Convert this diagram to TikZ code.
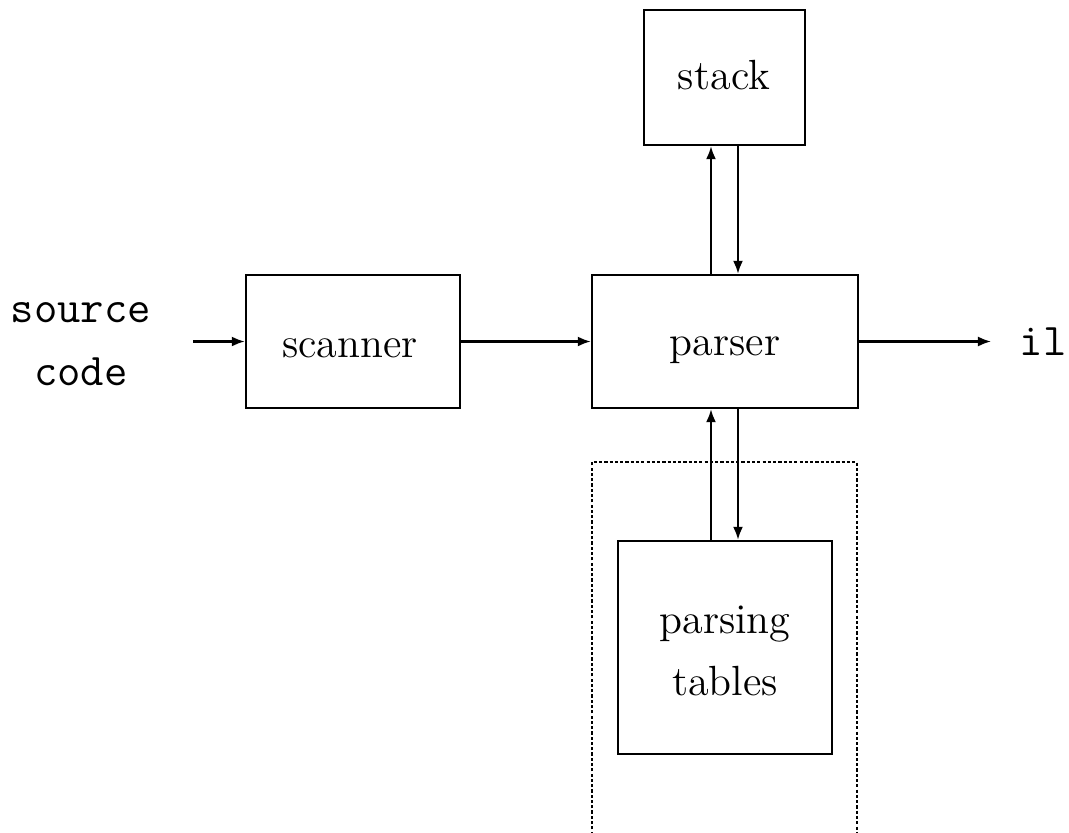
\documentclass[tikz,border=0pt]{standalone}
\usetikzlibrary{arrows.meta}
\begin{document}
\begin{tikzpicture}[x=0.01cm,y=-0.01cm,
  box/.style={draw,line width=0.65pt,inner sep=0pt},
  txt/.style={font=\fontsize{12}{15}\selectfont,anchor=base,inner sep=0pt},
  conn/.style={line width=0.6pt,-{Latex[length=1.3mm,width=1mm]}},
  lbl/.style={font=\fontsize{12.9}{16}\selectfont\ttfamily,anchor=base,inner sep=0pt}]
\useasboundingbox (0,0) rectangle (1069,833);
\node[box,minimum width=2.14cm,minimum height=1.33cm] (scanner) at (353,341.5) {};
\node[box,minimum width=2.66cm,minimum height=1.33cm] (parser) at (725,341.5) {};
\node[box,minimum width=1.61cm,minimum height=1.35cm] (stack) at (724.5,77.5) {};
\node[box,minimum width=2.14cm,minimum height=2.13cm] (tables) at (725,647.5) {};
\node[txt] (scannert) at (350,357) {scanner};
\node[txt] (parsert) at (725,355) {parser};
\node[txt] (stackt) at (724,89) {stack};
\node[txt] (tablest1) at (725,633) {parsing};
\node[txt] (tablest2) at (725,695) {tables};
\node[lbl] (src1) at (81,322) {source};
\node[lbl] (src2) at (81,385) {code};
\node[lbl,anchor=base west] (il) at (1019,355) {il};
\coordinate (srcend) at (193,341.5);
\coordinate (ilend) at (991,341.5);
\draw[conn] (srcend) -- (scanner.west);
\draw[conn] (scanner.east) -- (parser.west);
\draw[conn] (parser.east) -- (ilend);
\draw[conn] (parser.north -| 711,0) -- (stack.south -| 711,0);
\draw[conn] (stack.south -| 738,0) -- (parser.north -| 738,0);
\draw[conn] (tables.north -| 711,0) -- (parser.south -| 711,0);
\draw[conn] (parser.south -| 738,0) -- (tables.north -| 738,0);
\coordinate (d1) at (592,840);
\coordinate (d2) at (592,462);
\coordinate (d3) at (857,462);
\coordinate (d4) at (857,840);
\draw[line width=0.6pt,dash pattern=on 0.9pt off 0.6pt] (d1) -- (d2) -- (d3) -- (d4);
\end{tikzpicture}
\end{document}
